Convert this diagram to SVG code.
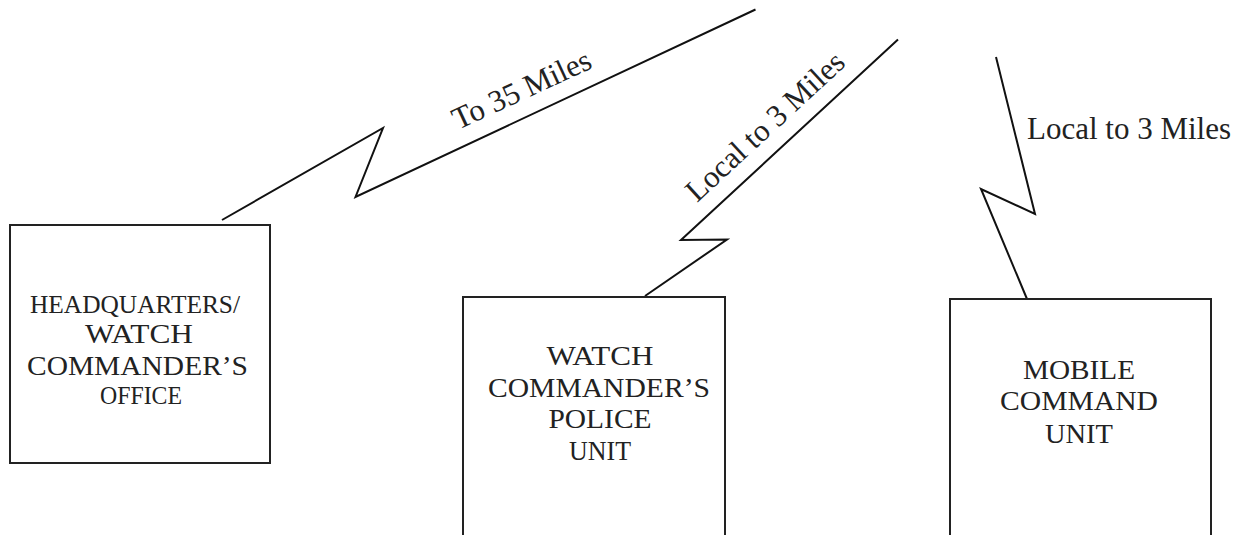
<svg xmlns="http://www.w3.org/2000/svg" width="1246" height="535" viewBox="0 0 1246 535">
<style>
.box{fill:#fff;stroke:#222;stroke-width:2}
.wire{fill:none;stroke:#111;stroke-width:2;stroke-linejoin:miter}
.t{font-family:"Liberation Serif","Times New Roman",serif;fill:#222;text-anchor:middle;font-size:28px}
.s{font-size:25px}
.lbl{font-family:"Liberation Serif","Times New Roman",serif;fill:#222;font-size:31px}
</style>
<rect width="1246" height="535" fill="#fff"/>
<g id="connectors">
<polyline class="wire" points="222,220 383,128 355.5,197 755.5,9.5"/>
<polyline class="wire" points="645,296 727,239.5 681,240 898,39.5"/>
<polyline class="wire" points="996,57 1035,214 981,189 1027,299"/>
<text class="lbl" transform="translate(458,130) rotate(-24.8)">To 35 Miles</text>
<text class="lbl" transform="translate(697,203) rotate(-42.7)">Local to 3 Miles</text>
<text class="lbl" x="1027" y="139">Local to 3 Miles</text>
</g>
<g id="hq">
<rect class="box" x="10" y="225" width="260" height="238"/>
<text class="t s" x="135" y="313" textLength="210" lengthAdjust="spacingAndGlyphs">HEADQUARTERS/</text>
<text class="t" x="139" y="343" textLength="108" lengthAdjust="spacingAndGlyphs">WATCH</text>
<text class="t" x="137.5" y="375" textLength="221" lengthAdjust="spacingAndGlyphs">COMMANDER’S</text>
<text class="t s" x="141" y="404" textLength="82" lengthAdjust="spacingAndGlyphs">OFFICE</text>
</g>
<g id="police">
<rect class="box" x="463" y="297" width="262" height="260"/>
<text class="t" x="600" y="365" textLength="107" lengthAdjust="spacingAndGlyphs">WATCH</text>
<text class="t" x="599" y="397" textLength="222" lengthAdjust="spacingAndGlyphs">COMMANDER’S</text>
<text class="t" x="600" y="428" textLength="103" lengthAdjust="spacingAndGlyphs">POLICE</text>
<text class="t" x="600" y="460" textLength="62" lengthAdjust="spacingAndGlyphs">UNIT</text>
</g>
<g id="mobile">
<rect class="box" x="950" y="299" width="261" height="260"/>
<text class="t" x="1079" y="379" textLength="112" lengthAdjust="spacingAndGlyphs">MOBILE</text>
<text class="t" x="1079" y="410" textLength="158" lengthAdjust="spacingAndGlyphs">COMMAND</text>
<text class="t" x="1079" y="443" textLength="68" lengthAdjust="spacingAndGlyphs">UNIT</text>
</g>
</svg>
